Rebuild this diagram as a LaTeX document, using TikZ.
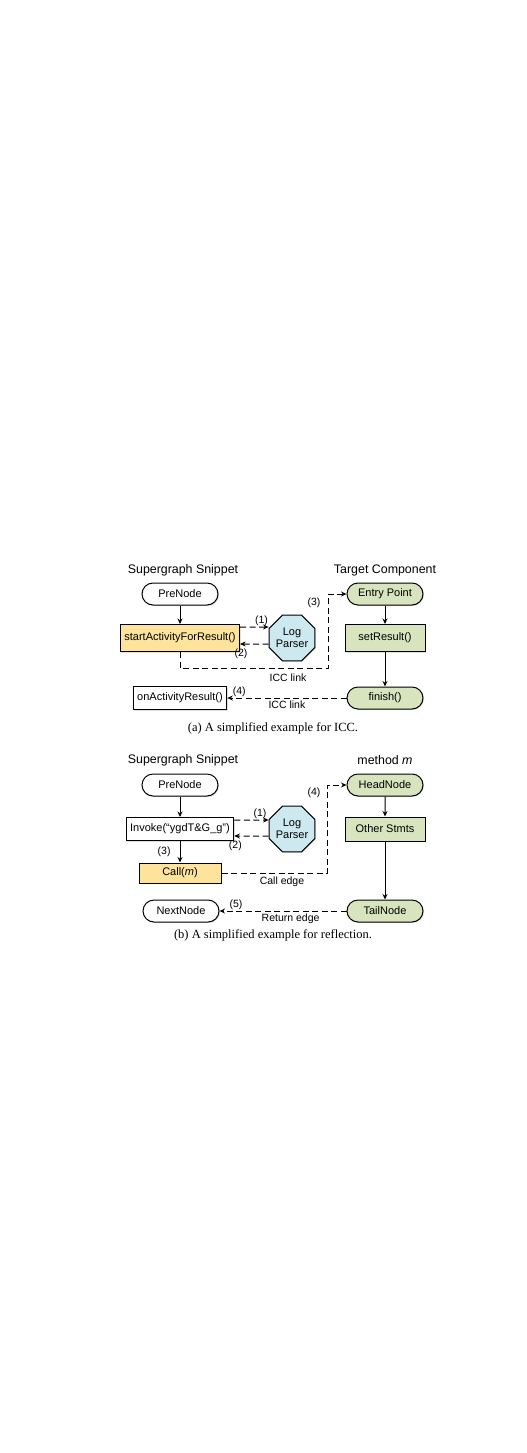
\documentclass[tikz,border=0pt]{standalone}
\usepackage{fontspec}
\setmainfont{Liberation Serif}
\setsansfont{Liberation Sans}
\usetikzlibrary{arrows.meta, shapes.geometric, shapes.misc, shadows}
\definecolor{stmtyellow}{HTML}{FDE39B}
\definecolor{tgtgreen}{HTML}{D7E4BD}
\definecolor{parserblue}{HTML}{CDE9EF}

\begin{document}
\begin{tikzpicture}[->,>={Stealth[length=5.5pt,width=5pt]},line width=1pt,x=1pt,y=-1pt,node distance=44pt,
                    every node/.style={font=\sffamily\fontsize{11}{13}\selectfont},
                    shade/.style={drop shadow={shadow xshift=1pt,shadow yshift=-1pt,opacity=0.25}},
                    term/.style={rounded rectangle,draw,fill=white,shade,minimum width=80pt,minimum height=22pt,inner sep=2pt},
                    stmt/.style={rectangle,draw,fill=white,shade,minimum width=80pt,minimum height=27pt,inner xsep=4pt,inner ysep=2pt},
                    parser/.style={regular polygon,regular polygon sides=8,draw,fill=parserblue,shade,minimum size=47pt,inner sep=0pt,align=center,font=\sffamily\fontsize{11}{12.5}\selectfont},
                    title/.style={font=\sffamily\fontsize{12.4}{14}\selectfont},
                    lbl/.style={font=\sffamily\fontsize{10.5}{12}\selectfont,inner sep=1pt},
                    caption/.style={font=\rmfamily\fontsize{12.5}{14}\selectfont},
                    link/.style={dash pattern=on 6pt off 3.5pt}]
                    \useasboundingbox (0,0) rectangle (527,1453);

                    % (a) ICC
                    \node[title] (tA) at (183,570) {Supergraph Snippet};
                    \node[title] (tB) at (385,570) {Target Component};
                    \node[term] (pre) at (180,594) {PreNode};
                    \node[stmt,fill=stmtyellow] (sa) [below of = pre] {startActivityForResult()};
                    \node[parser] (lp) at (292,638) {Log\\Parser};
                    \node[term,fill=tgtgreen] (ep) at (385,594) {Entry Point};
                    \node[stmt,fill=tgtgreen] (sr) [below of = ep] {setResult()};
                    \node[term,fill=tgtgreen] (fin) at (385,698) {finish()};
                    \node[stmt,minimum height=23pt] (oar) at (180,698) {onActivityResult()};
                    \coordinate (c3) at (328,668);
                    \node[caption] (capA) at (273,728) {(a) A simplified example for ICC.};

                    \path
                    (pre) edge (sa)
                    (ep) edge (sr)
                    (sr) edge (fin)
                    ;
                    \draw[link] ([yshift=11pt]sa.east) -- ([yshift=11pt]lp.west) node[lbl,above,pos=.75] {(1)};
                    \draw[link] ([yshift=-6pt]lp.west) -- ([yshift=-6pt]sa.east) node[lbl,below=3.5pt,pos=.97] {(2)};
                    \draw[link] (sa.south) |- (c3) |- (ep.west);
                    \node[lbl] (l3) at (314,603) {(3)};
                    \node[lbl] (iccA) at (288,678) {ICC link};
                    \draw[link] (fin.west) -- (oar.east) node[lbl,above,pos=.9] {(4)}
                                                          node[lbl,below=1pt,midway] {ICC link};

                    % (b) reflection
                    \node[title] (tC) at (183,760) {Supergraph Snippet};
                    \node[title] (tD) at (385,760) {method \textit{m}};
                    \node[term] (pre2) at (180,785) {PreNode};
                    \node[stmt,minimum height=23pt] (inv) [below of = pre2] {Invoke(“ygdT\&G\_g”)};
                    \node[parser] (lp2) at (292,829) {Log\\Parser};
                    \node[stmt,fill=stmtyellow,minimum width=82pt,minimum height=20pt] (call) [below of = inv] {Call(\textit{m})};
                    \node[term,fill=tgtgreen] (hn) at (385,785) {HeadNode};
                    \node[stmt,fill=tgtgreen,minimum height=24pt] (os) [below of = hn] {Other Stmts};
                    \node[term,fill=tgtgreen] (tn) at (385,911) {TailNode};
                    \node[term] (nn) at (181,911) {NextNode};
                    \coordinate (c4) at (327,785);
                    \node[caption] (capB) at (273,935) {(b) A simplified example for reflection.};

                    \path
                    (pre2) edge (inv)
                    (inv) edge node[lbl,left=8pt] {(3)} (call)
                    (hn) edge (os)
                    (os) edge (tn)
                    ;
                    \draw[link] ([yshift=9pt]inv.east) -- ([yshift=9pt]lp2.west) node[lbl,above,pos=.75] {(1)};
                    \draw[link] ([yshift=-7pt]lp2.west) -- ([yshift=-7pt]inv.east) node[lbl,below=3.5pt,pos=.97] {(2)};
                    \draw[link] (call.east) -| (c4) -- (hn.west);
                    \node[lbl] (l4) at (314,793) {(4)};
                    \node[lbl] (ce) at (282,882) {Call edge};
                    \draw[link] (tn.west) -- (nn.east) node[lbl,above,pos=.87] {(5)}
                                                        node[lbl,below=1pt,pos=.44] {Return edge};
                \end{tikzpicture}
\end{document}
